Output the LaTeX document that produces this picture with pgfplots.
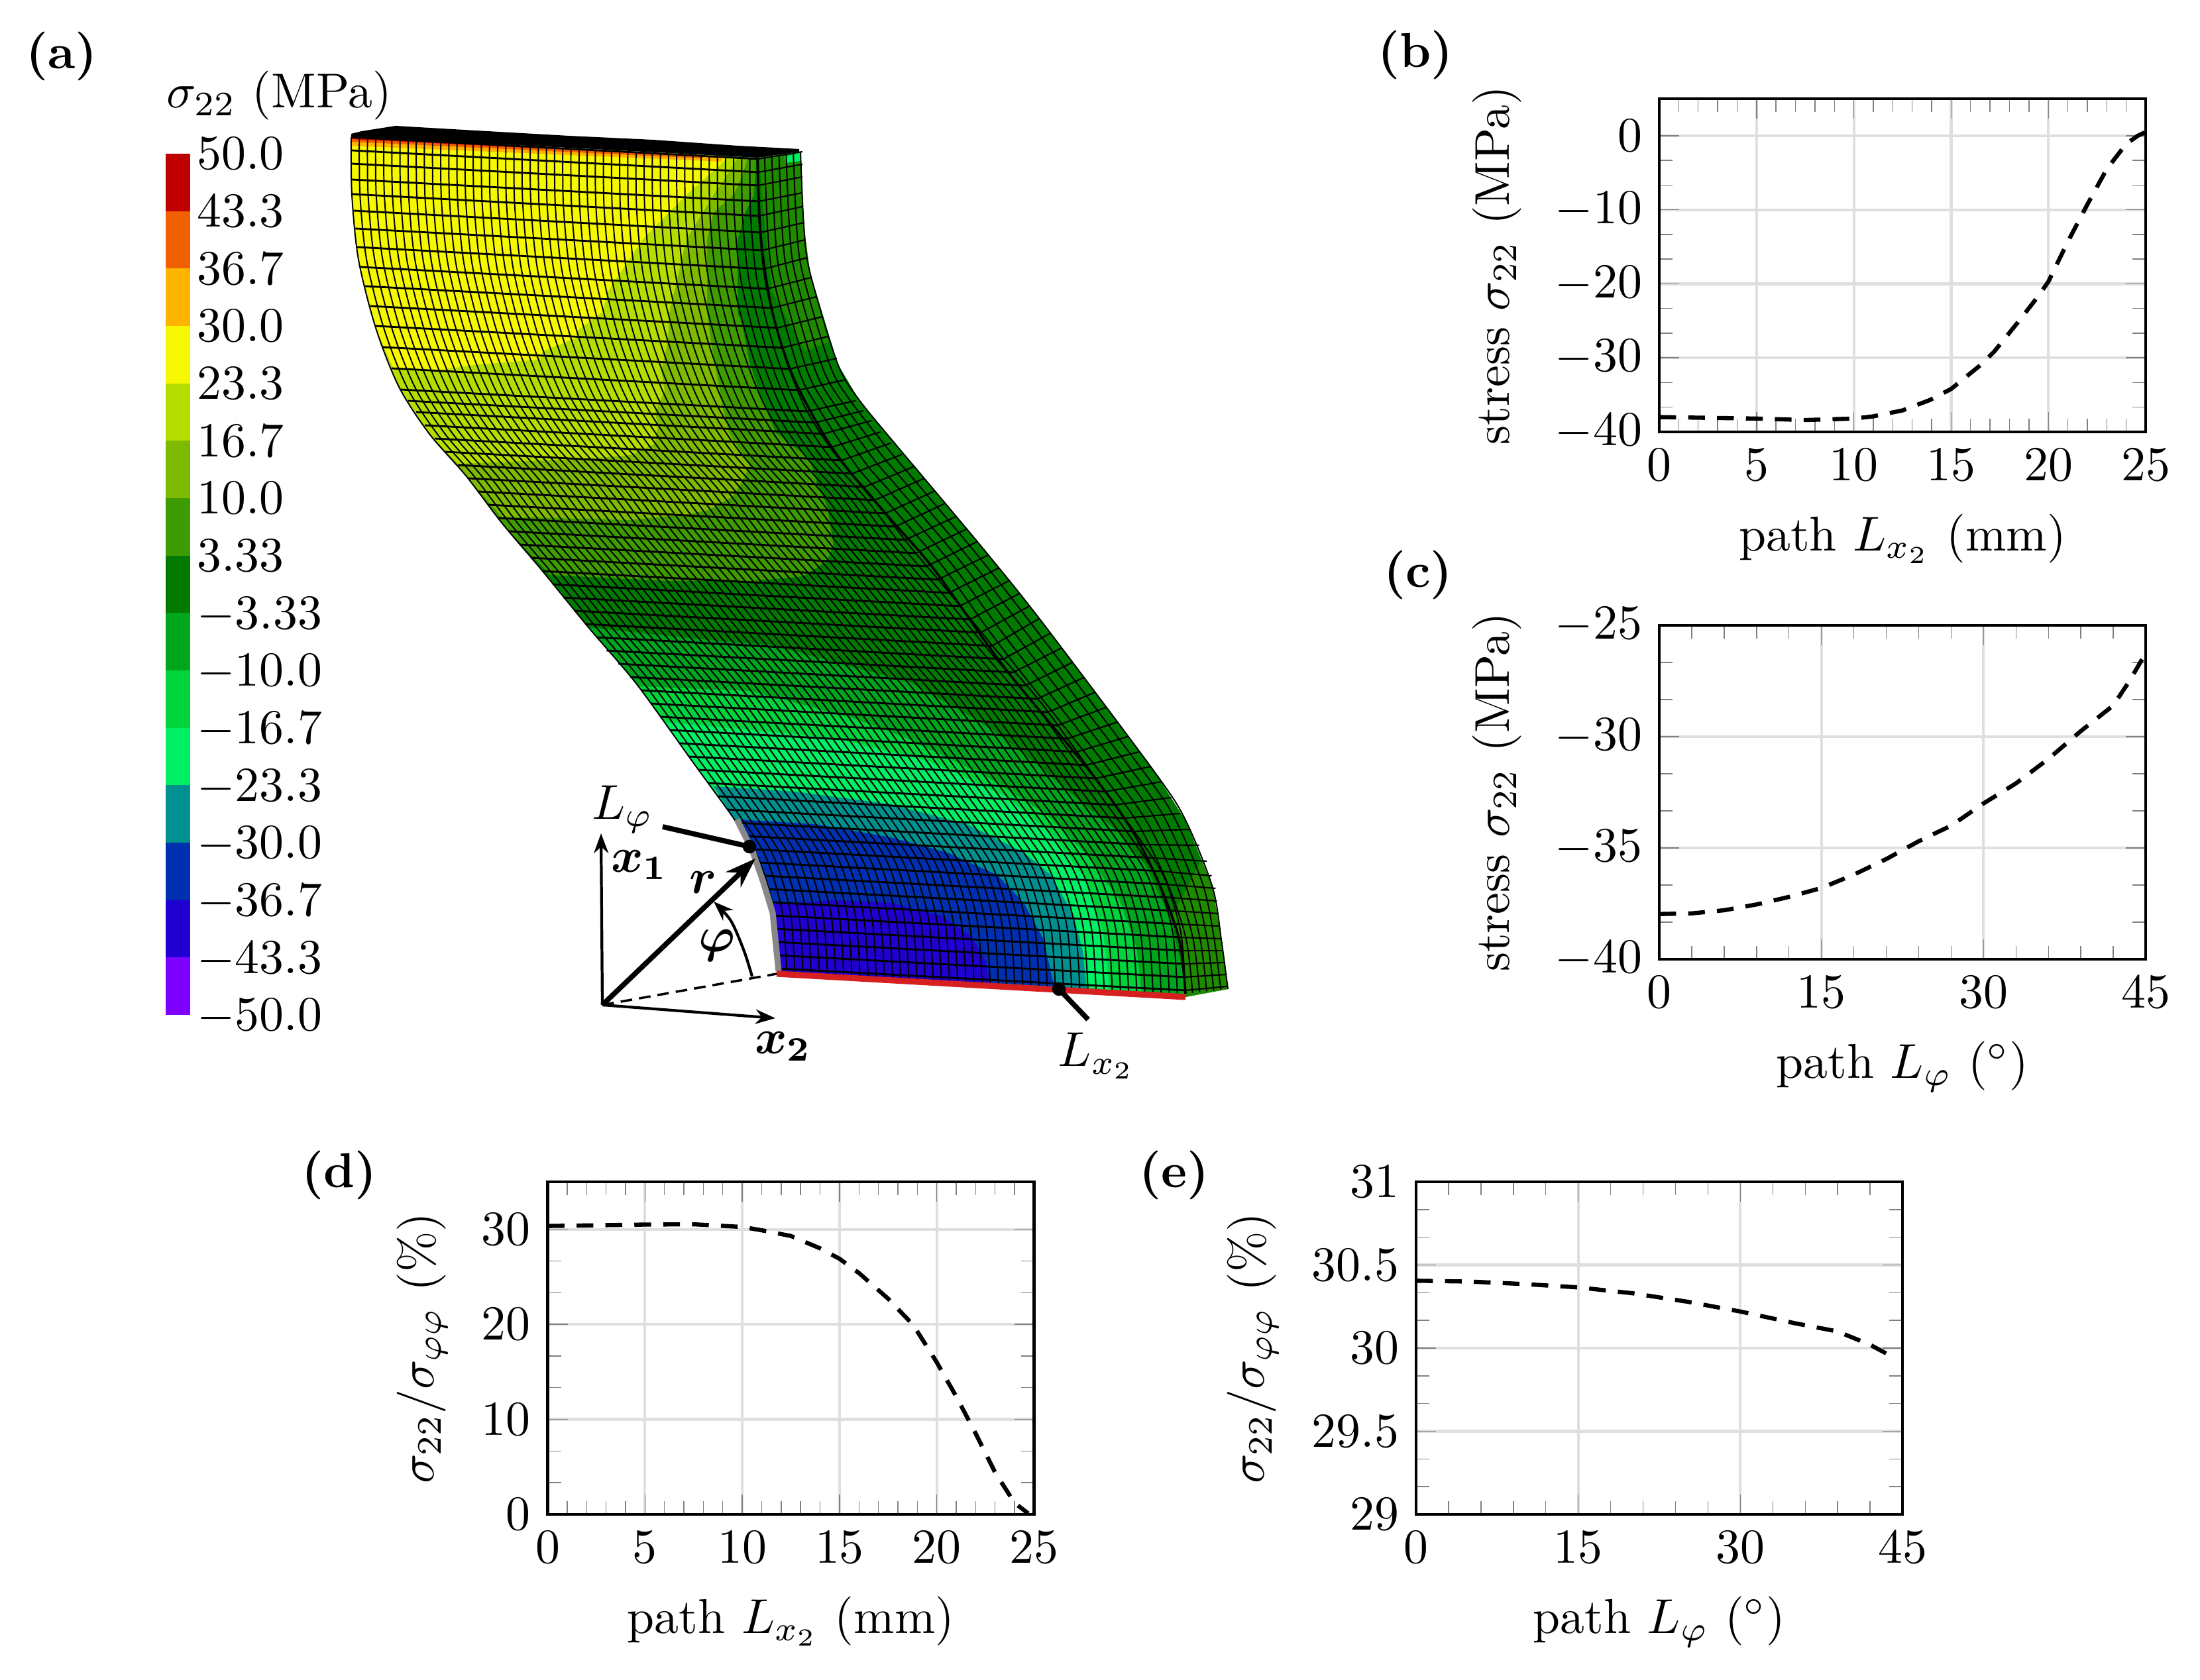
\documentclass[border=0pt]{standalone}
\usepackage{amsmath}
\usepackage{pgfplots}
\usepackage{pgfplotstable}
\usetikzlibrary{arrows.meta}
\pgfplotsset{compat=1.18}

\definecolor{c1}{HTML}{BE0000}
\definecolor{c2}{HTML}{F06000}
\definecolor{c3}{HTML}{FFB400}
\definecolor{c4}{HTML}{F5F800}
\definecolor{c5}{HTML}{B5DE00}
\definecolor{c6}{HTML}{7DBA00}
\definecolor{c7}{HTML}{3F9C00}
\definecolor{c8}{HTML}{007A00}
\definecolor{c9}{HTML}{00A51E}
\definecolor{c10}{HTML}{00D43C}
\definecolor{c11}{HTML}{00F064}
\definecolor{c12}{HTML}{009090}
\definecolor{c13}{HTML}{0030B0}
\definecolor{c14}{HTML}{2000D0}
\definecolor{c15}{HTML}{8000FF}
\definecolor{sidelight}{HTML}{1F8A00}
\definecolor{redpath}{HTML}{D62020}
\definecolor{graypath}{HTML}{888888}

% left edge of the front face, pixel coordinates
\pgfplotstableread{
x y
530 207
531 294
541 392
567 495
602 584
648 655
703 718
757 789
817 860
888 947
961 1033
1046 1151
1109 1238
1144 1294
1168 1375
1175 1467
}\Ledge

% ridge and outer edge of the side face
\pgfplotstableread{
xr yr xo yo
1143 238 1208 229
1148 356 1213 340
1157 427 1222 410
1194 562 1264 549
1223 619 1296 603
1280 709 1355 675
1318 753 1393 720
1410 860 1490 836
1497 982 1574 941
1660 1186 1745 1169
1705 1248 1790 1240
1747 1329 1830 1340
1779 1416 1843 1418
1789 1500 1853 1493
}\Sedge

% mesh rows: start on the left edge, u v across the side face
\pgfplotstableread{
x y u v
530 207 67 -11
530 227 67 -12
530 247 67 -13
531 271 66 -13
531 293 66 -14
533.5 318 66 -15
536 345 65 -16
539 373 65 -17
544 403 66 -17
551 432 67 -17
559 462 68 -17
566 492 69 -17
578 524 71 -16
591 556 72 -16
604 588 73 -16
616 605 73 -18
628 622 73 -20
641 642 74 -23
656 662 74 -26
672 682 75 -29
691 702 75 -31
706 722 75 -33
722 742 75 -34
737 762 75 -35
752 782 76 -35
768 802 76 -36
784 822 76 -37
801 842 76 -37
818 862 76 -38
834 882 76 -39
850 902 74 -39
866 922 73 -40
883 942 71 -41
900 962 71 -39
915.3 982 73 -37
933.2 1002 71 -35
951.2 1022 70 -32
967.5 1042 71 -30
981.9 1062 73 -27
996.4 1082 76 -25
1010.8 1102 77 -23
1025.1 1122 80 -20
1039.5 1142 83 -18
1054 1162 85 -15
1068.4 1182 85 -11
1082.9 1202 84 -7
1097.4 1222 84 -3
1111.5 1242 84 1
1124 1262 83 5
1136.5 1282 78 7
1146.4 1302 74 6
1152.3 1322 70 5
1158.2 1342 66 4
1164.1 1362 62 3
1168.5 1382 60 2
1170 1402 60 0
1171.6 1422 62 -2
1173 1442 64 -4
1174.6 1462 64 -6
}\Rows

\newcommand{\band}[3]{\addplot[fill=#1,draw=none] coordinates {(250,#2) (286.5,#2) (286.5,#3) (250,#3)} -- cycle;}
\newcommand{\leg}[2]{\node[anchor=base west,inner sep=0pt] at (axis cs:296,#1) {$#2$};}

\pgfplotsset{
  panel/.style={
    scale only axis, anchor=south west, width=3.67cm, height=2.515cm,
    grid=major, grid style={gray!25,line width=.6pt},
    axis line style={line width=.6pt},
    tick style={gray},
    minor x tick num=4, minor y tick num=2,
  },
  meshline/.style={black,line width=.28pt,no markers},
  curve/.style={black,line width=.9pt,dash pattern=on 3.6pt off 2.6pt,no markers},
}

\begin{document}
\begin{tikzpicture}[every node/.append style={scale=1.05}]
\path[use as bounding box] (0,0) rectangle (16.6,12.68);

\begin{axis}[
  at={(0,0)}, anchor=south west, scale only axis,
  width=16.6cm, height=12.68cm,
  xmin=0, xmax=3320, ymin=0, ymax=2536, y dir=reverse,
  hide axis, clip=false,
]
% colour scale
\band{c1}{232}{318.7}
\band{c2}{318.7}{405.3}
\band{c3}{405.3}{492}
\band{c4}{492}{578.7}
\band{c5}{578.7}{665.3}
\band{c6}{665.3}{752}
\band{c7}{752}{838.7}
\band{c8}{838.7}{925.3}
\band{c9}{925.3}{1012}
\band{c10}{1012}{1098.7}
\band{c11}{1098.7}{1185.3}
\band{c12}{1185.3}{1272}
\band{c13}{1272}{1358.7}
\band{c14}{1358.7}{1445.3}
\band{c15}{1445.3}{1532}
\leg{256}{50.0}
\leg{342.7}{43.3}
\leg{429.3}{36.7}
\leg{516}{30.0}
\leg{602.7}{23.3}
\leg{689.3}{16.7}
\leg{776}{10.0}
\leg{862.7}{3.33}
\leg{949.3}{-3.33}
\leg{1036}{-10.0}
\leg{1122.7}{-16.7}
\leg{1209.3}{-23.3}
\leg{1296}{-30.0}
\leg{1382.7}{-36.7}
\leg{1469.3}{-43.3}
\leg{1556}{-50.0}
\node[anchor=base west,inner sep=0pt] at (axis cs:250,163) {$\sigma_{22}$\ (MPa)};

% side face
\addplot[fill=c8,draw=none] coordinates {(1143,238) (1208,229) (1213,340) (1222,410) (1264,549) (1296,603) (1355,675) (1393,720) (1490,836) (1574,941) (1745,1169) (1790,1240) (1830,1340) (1843,1418) (1853,1493) (1789,1505) (1779,1416) (1747,1329) (1705,1248) (1642,1161) (1516,1008) (1410,860) (1345,785) (1280,709) (1240,651) (1194,562) (1164,464) (1148,356)} -- cycle;
\addplot[fill=sidelight,draw=none] coordinates {(1146,240) (1208,229) (1213,340) (1222,410) (1250,517) (1215,530) (1165,440) (1150,300)} -- cycle;
\addplot[fill=sidelight,draw=none] coordinates {(1770,1380) (1812,1300) (1830,1340) (1843,1418) (1853,1493) (1789,1505)} -- cycle;
\addplot[fill=c11,draw=none] coordinates {(1184,236) (1207,231) (1208,243) (1186,246)} -- cycle;

% front face, contour bands from the outside in
\addplot[fill=c8,draw=none] coordinates {(530,207) (531,294) (541,392) (567,495) (602,584) (648,655) (703,718) (757,789) (817,860) (888,947) (961,1033) (1046,1151) (1109,1238) (1144,1294) (1168,1375) (1175,1467) (1789,1503) (1779,1416) (1747,1329) (1705,1248) (1642,1161) (1516,1008) (1410,860) (1345,785) (1280,709) (1240,651) (1194,562) (1164,464) (1148,356) (1143,238)} -- cycle;
\addplot[fill=c7,draw=none] coordinates {(530,207) (531,294) (541,392) (567,495) (602,584) (648,655) (703,718) (757,789) (830,868) (1008,877) (1136,877) (1212,870) (1248,847) (1258,823) (1248,763) (1233,730) (1222,693) (1171,653) (1151,607) (1131,547) (1120,490) (1113,472) (1113,361) (1125,320) (1138,294) (1141,240)} -- cycle;
\addplot[fill=c6,draw=none] coordinates {(530,207) (531,294) (541,392) (567,495) (602,584) (648,655) (703,718) (757,780) (952,785) (1034,777) (1069,770) (1105,750) (1120,727) (1131,703) (1100,653) (1090,613) (1082,567) (1074,523) (1067,472) (1067,361) (1077,320) (1107,294) (1120,265) (1128,239)} -- cycle;
\addplot[fill=c5,draw=none] coordinates {(530,207) (531,294) (541,392) (567,495) (602,584) (648,655) (691,700) (875,693) (952,687) (988,670) (993,640) (988,623) (1003,590) (998,560) (1008,513) (1010,472) (1036,361) (1077,294) (1100,260) (1113,238)} -- cycle;
\addplot[fill=c4,draw=none] coordinates {(530,207) (531,294) (541,392) (567,495) (594,557) (666,558) (722,550) (814,543) (819,530) (870,510) (870,500) (908,472) (919,437) (970,361) (1036,294) (1080,255) (1100,236)} -- cycle;
\addplot[fill=c3,draw=none] coordinates {(530,207) (1090,236) (1090,244) (530,220)} -- cycle;
\addplot[fill=c2,draw=none] coordinates {(530,207) (1060,234) (1060,239) (530,214)} -- cycle;
\addplot[fill=c1,draw=none] coordinates {(530,207) (1000,231) (1000,233) (530,210)} -- cycle;
\addplot[fill=c9,draw=none] coordinates {(888,947) (1008,960) (1110,970) (1161,973) (1373,1030) (1436,1065) (1494,1099) (1563,1153) (1626,1206) (1683,1252) (1729,1306) (1769,1394) (1785,1470) (1789,1503) (1175,1467) (1168,1375) (1144,1294) (1109,1238) (1046,1151) (961,1033)} -- cycle;
\addplot[fill=c10,draw=none] coordinates {(963,1036) (1132,1043) (1287,1084) (1367,1114) (1488,1172) (1580,1230) (1640,1290) (1690,1360) (1715,1430) (1723,1499) (1175,1467) (1168,1375) (1144,1294) (1109,1238) (1046,1151)} -- cycle;
\addplot[fill=c11,draw=none] coordinates {(1002,1090) (1143,1103) (1258,1114) (1402,1149) (1517,1202) (1590,1262) (1640,1330) (1665,1410) (1675,1496) (1175,1467) (1168,1375) (1144,1294) (1109,1238) (1046,1151)} -- cycle;
\addplot[fill=c12,draw=none] coordinates {(1077,1187) (1201,1195) (1344,1214) (1459,1244) (1545,1287) (1586,1321) (1620,1382) (1634,1436) (1640,1494) (1175,1467) (1168,1375) (1144,1294) (1109,1238)} -- cycle;
\addplot[fill=c13,draw=none] coordinates {(1112,1237) (1230,1244) (1344,1264) (1430,1287) (1505,1321) (1545,1363) (1574,1417) (1591,1489) (1175,1467) (1168,1375) (1144,1294)} -- cycle;
\addplot[fill=c14,draw=none] coordinates {(1166,1365) (1258,1359) (1344,1363) (1419,1382) (1465,1413) (1488,1451) (1494,1484) (1175,1467) (1168,1375)} -- cycle;

% mesh
\pgfplotsinvokeforeach{0,...,50}{
  \addplot[meshline,smooth] table[x expr=\thisrow{x}+#1*12.28,y expr=\thisrow{y}+#1*0.66] {\Ledge};
}
\pgfplotsinvokeforeach{1,...,6}{
  \addplot[meshline,smooth] table[x expr=\thisrow{xr}+#1*(\thisrow{xo}-\thisrow{xr})/6,y expr=\thisrow{yr}+#1*(\thisrow{yo}-\thisrow{yr})/6] {\Sedge};
}
\addplot[black,line width=.4pt,no markers,quiver={u=614,v=33}] table[x=x,y=y] {\Rows};
\addplot[black,line width=.3pt,no markers,quiver={u=\thisrow{u},v=\thisrow{v}}] table[x expr=\thisrow{x}+614,y expr=\thisrow{y}+33] {\Rows};
\addplot[black,line width=.5pt,no markers,smooth] coordinates {(1143,238) (1148,356) (1164,464) (1194,562) (1240,651) (1280,709) (1345,785) (1410,860) (1516,1008) (1642,1161) (1705,1248) (1747,1329) (1779,1416) (1789,1500)};

% top face
\addplot[fill=black,draw=none] coordinates {(530,202) (546,198) (597,190) (648,193) (735,198) (858,205) (985,211) (1113,220) (1206,225) (1206,229) (1143,238) (837,222) (530,207)} -- cycle;

% paths
\addplot[graypath,line width=1.3pt,no markers] coordinates {(1112,1237) (1135,1283) (1152,1332) (1166,1378) (1175,1466)};
\addplot[redpath,line width=1.3pt,no markers] coordinates {(1172,1470) (1789,1505)};

% local axes
\addplot[black,line width=.6pt,no markers,-{Stealth[length=1.5mm,width=1.1mm]}] coordinates {(909,1517) (907,1258)};
\addplot[black,line width=.6pt,no markers,-{Stealth[length=1.5mm,width=1.1mm]}] coordinates {(909,1517) (1170,1537)};
\addplot[black,line width=1.1pt,no markers,-{Stealth[length=2.3mm,width=1.6mm]}] coordinates {(909,1517) (1140,1296)};
\addplot[black,line width=.5pt,no markers,dash pattern=on 2.5pt off 1.5pt] coordinates {(909,1517) (1172,1470)};
\addplot[black,line width=.6pt,no markers,smooth,-{Stealth[length=1.5mm,width=1.1mm]}] coordinates {(1135,1474) (1123,1436) (1103,1390) (1077,1361)};
\addplot[black,line width=1.1pt,mark=*,mark size=.9pt,mark indices={2}] coordinates {(1000,1248) (1131,1278)};
\addplot[black,line width=1.1pt,mark=*,mark size=.9pt,mark indices={2}] coordinates {(1642,1539) (1598,1493)};
\node[inner sep=0pt] at (axis cs:940,1222) {$L_\varphi$};
\node[inner sep=0pt] at (axis cs:965,1306) {$\boldsymbol{x_1}$};
\node[inner sep=0pt] at (axis cs:1061,1332) {$\boldsymbol{r}$};
\node[inner sep=0pt] at (axis cs:1082,1427) {$\boldsymbol{\varphi}$};
\node[inner sep=0pt] at (axis cs:1182,1580) {$\boldsymbol{x_2}$};
\node[inner sep=0pt] at (axis cs:1655,1594) {$L_{x_2}$};

% panel letters
\node[inner sep=0pt] at (axis cs:93,85) {\textbf{(a)}};
\node[inner sep=0pt] at (axis cs:2136,83) {\textbf{(b)}};
\node[inner sep=0pt] at (axis cs:2140,868) {\textbf{(c)}};
\node[inner sep=0pt] at (axis cs:512,1774) {\textbf{(d)}};
\node[inner sep=0pt] at (axis cs:1772,1774) {\textbf{(e)}};
\end{axis}

% (b)
\begin{axis}[panel, at={(12.52cm,9.42cm)},
  xmin=0, xmax=25, ymin=-40, ymax=5,
  xtick={0,5,...,25}, ytick={-40,-30,-20,-10,0},
  xlabel={path $L_{x_2}$\ (mm)}, ylabel={stress $\sigma_{22}$\ (MPa)}]
\addplot[curve] coordinates {
  (0,-38) (5,-38.2) (7.5,-38.4) (10,-38.2) (11,-37.9) (12.5,-37.1) (13.9,-35.7)
  (15,-34.2) (16.5,-31) (17.2,-29.2) (18.4,-25.3) (19.5,-21.6) (20,-19.7) (21,-14.3)
  (22,-9.3) (23,-4.5) (24,-1.1) (24.6,0) (25,0.5)};
\end{axis}

% (c)
\begin{axis}[panel, at={(12.52cm,5.44cm)}, height=2.52cm,
  xmin=0, xmax=45, ymin=-40, ymax=-25,
  xtick={0,15,30,45}, ytick={-40,-35,-30,-25},
  xlabel={path $L_\varphi$ ($^\circ$)}, ylabel={stress $\sigma_{22}$\ (MPa)}]
\addplot[curve] coordinates {
  (0,-37.97) (3,-37.94) (6,-37.8) (9,-37.54) (12,-37.2) (15,-36.8) (18,-36.2) (21,-35.5)
  (24,-34.7) (27,-34) (30,-33) (33,-32.1) (36,-31) (39,-29.75) (42,-28.6) (43.5,-27.5) (45,-26.25)};
\end{axis}

% (d)
\begin{axis}[panel, at={(4.1325cm,1.25cm)}, height=2.51cm,
  xmin=0, xmax=25, ymin=0, ymax=35,
  xtick={0,5,...,25}, ytick={0,10,20,30},
  xlabel={path $L_{x_2}$\ (mm)}, ylabel={$\sigma_{22}/\sigma_{\varphi\varphi}$\ (\%)}]
\addplot[curve] coordinates {
  (0,30.35) (5,30.5) (7.5,30.53) (10,30.25) (11,29.9) (12.5,29.3) (14,28) (15,26.9)
  (16,25.4) (17.5,22.7) (18.8,19.9) (20,16) (21,12.4) (22,8.5) (23,4.4) (24,1.2) (24.7,0.1)};
\end{axis}

% (e)
\begin{axis}[panel, at={(10.685cm,1.25cm)}, height=2.51cm,
  xmin=0, xmax=45, ymin=29, ymax=31,
  xtick={0,15,30,45}, ytick={29,29.5,30,30.5,31},
  xlabel={path $L_\varphi$ ($^\circ$)}, ylabel={$\sigma_{22}/\sigma_{\varphi\varphi}$\ (\%)}]
\addplot[curve] coordinates {
  (0,30.405) (5,30.4) (10,30.385) (15,30.365) (20,30.33) (25,30.28) (30,30.22) (35,30.15)
  (39,30.1) (42,30.02) (44.3,29.94)};
\end{axis}
\end{tikzpicture}
\end{document}
